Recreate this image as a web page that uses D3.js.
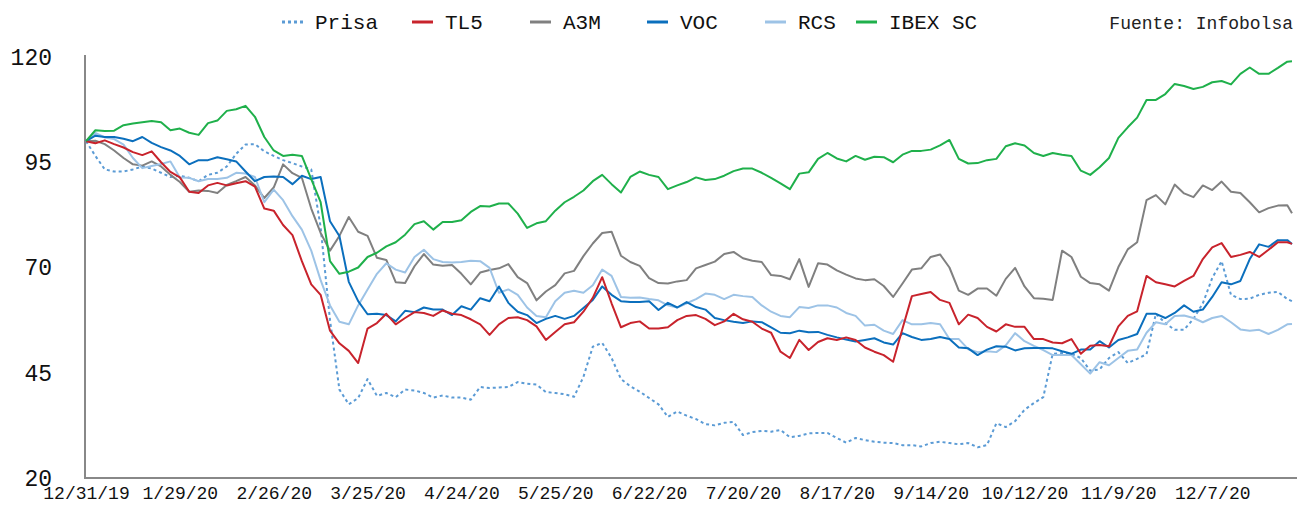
<!DOCTYPE html>
<html><head><meta charset="utf-8">
<script src="https://cdn.jsdelivr.net/npm/d3@7"></script>
<style>body{margin:0;background:#fff}svg{display:block}</style>
</head><body>
<svg id="chart" width="1297" height="506"></svg>
<script>
// trading-day tick labels (every 20 trading days)
const xTickLabels = ["12/31/19","1/29/20","2/26/20","3/25/20","4/24/20","5/25/20","6/22/20","7/20/20","8/17/20","9/14/20","10/12/20","11/9/20","12/7/20"];
const yTicks = [20,45,70,95,120];
const seriesNames = ["Prisa","TL5","A3M","VOC","RCS","IBEX SC"];
const totalDays = 258;   // trading days shown (12/31/19 .. 12/31/20)
const sampleStep = 2;    // values below are read every 2nd trading day, last one is the final day

const prisa = [100,96.5,93.3,92.8,92.8,93.3,94,93.5,92.5,91.5,
91.8,91.3,90.5,92,92.5,94,97,99.2,99.3,97.6,
96.5,95.5,94.8,94,93.3,79.6,57.5,41,37.5,39,
43.5,39.5,40.2,39.2,41,40.8,40.2,39.1,39.6,39.1,
39.1,38.6,41.6,41.4,41.5,41.6,42.8,42.4,42.2,40.4,
40.2,39.9,39.3,44,51.2,52.1,48.5,43.5,41.8,40.5,
39,37.5,34.5,35.8,34.8,34,32.8,32.5,33.1,33.3,
30.2,30.9,31.2,31,31.4,29.7,30,30.6,30.7,30.7,
29.5,28.4,29.5,29,28.6,28.4,28.3,27.8,27.8,27.5,
28.3,28.6,28.3,28,28.3,27.3,27.8,33,32.1,33.5,
36.2,37.8,39.2,49.5,49.7,49.5,48.5,45.5,45.8,48.5,
49.9,47.3,48.3,49.4,59,56.8,55.2,55.2,57.8,61.5,
67.5,71.5,63.5,62.5,62.6,63.5,64,64.2,62.5,62];

const tl5 = [100,99.5,100.2,99.3,98.5,97.4,96.7,97.6,95,92.7,
91.4,88,87.7,89.5,90.1,89.5,90,90.5,89.2,84,
83.5,80.1,77.7,71.5,66,63.5,55,52,50.2,47.3,
55.5,56.8,59,56.5,58,59.4,59.2,58.5,59.8,59,
58.7,57.7,56.5,54,56.5,58,58.2,57.5,56,52.8,
54.7,56.5,57,59.5,62.8,67.7,61.5,55.8,56.8,57.2,
55.5,55.5,55.8,57.5,58.5,58.7,57.8,56.3,57.2,59,
57.7,57.1,55.5,54.5,50,48.5,52.8,50.4,52.3,53.2,
52.8,53.4,52.8,51,50,49.2,47.6,55.5,63.2,63.7,
64.2,62.3,61.6,56.5,58.8,58,55.9,54.8,56.5,55.9,
55.9,53,53,52.2,52,53,49.5,51.4,51.6,51.3,
56,58.5,59.6,68,66.5,66,65.5,66.8,68,72,
74.8,75.8,72.5,73,73.7,72.5,74.2,76,76,75.6];

const a3m = [100,100.1,99.3,97.8,96,94.5,94.2,95.2,94,92,
90.3,88,88.3,88.2,87.7,89.6,90.5,91.5,89.5,86.5,
89,94.5,92.4,91.3,84,78.2,74,77.5,82,78.5,
77.5,72.3,71.8,66.5,66.3,70.3,73.2,70.7,70.4,70.6,
68.5,66,68.8,69.4,69.8,70.8,67.7,66.3,62.2,64.3,
65.8,68.6,69.2,72.7,75.7,78.2,78.5,72.8,71.3,70.4,
67.5,66.3,66.2,66.7,67,69.8,70.6,71.4,73.2,73.7,
72.2,71.6,71.3,68.2,68,67.2,72,65.4,71,70.7,
69.3,68.3,67.4,67,67.2,65.6,63,66.2,69.5,69.8,
72.5,73.1,70,64.5,63.5,65,65,63.3,67.3,69.9,
65.5,62.7,62.6,62.3,74,72.5,67.8,66.3,66,64.5,
70.1,74.3,76,86,87.2,85,89.7,87.6,86.7,89.5,
88.4,90.4,88,87.7,85.5,83.1,84.1,84.7,84.8,82.9];

const voc = [100,101.3,101,101,100.6,100,101,99.6,98.6,97.8,
96.5,94.5,95.5,95.5,96.2,95.7,95.2,92.8,90.5,91.5,
91.6,91.5,89.8,91.8,91,91.5,81,77.5,66.6,62,
58.9,59,58.7,57.2,59.7,59.4,60.5,60,60,58.7,
60.8,60,62.7,62,65.5,61.6,59.5,58.7,56.8,57.8,
58.5,57.8,58.5,60.4,62.3,65.5,63.5,62,61.8,61.8,
62,59.9,61.6,60.5,61.8,60.6,60,58,57.5,57.1,
56.8,57.2,57,55.8,54.5,54.4,55,54.6,54.7,54,
53.4,52.9,52.4,52.8,53.2,52.2,51.7,54.4,53.5,52.8,
53,53.5,53,51,50.8,49.2,50.5,51.3,51.2,50.3,
50.8,50.9,50.9,50.8,50.1,49.5,50.5,50.5,52.5,51,
52.8,53.4,54.2,59,59,58,59.2,61,59.5,60,
63,66.5,66,66.8,72,75.5,74.9,76.5,76.5,75.6];

const rcs = [100,102,100.9,100.5,99.2,96,93.6,94.1,94.6,95.2,
91.4,91.3,90.5,91,91,91.3,92.5,92.3,91.5,85.5,
88.5,86,82.2,79,74,67,61,57.1,56.5,61,
64.8,68.5,71,69.5,68.8,72.5,74.2,72,71.3,71.2,
71.3,71.6,71.5,69.9,64,64.8,63.5,60.5,58.5,58.2,
62,64,64.5,64,65.8,69.5,68,63,62.8,62.9,
62.5,62.2,61,60.5,61.5,62.5,63.8,63.5,62.5,63.5,
63.2,63,61,59.5,58.5,58.2,60.6,60.4,61,61,
60.5,59.2,58.5,56.2,56.4,55,54.2,57.5,56.5,56.5,
56.8,56.5,53,53,50.6,49.9,50.1,49.9,51.5,54.4,
52.5,51.4,50.4,49.2,49.2,49.2,47,44.8,47.5,46.8,
48.5,50.2,50.5,54.5,57,56.5,58.5,58.6,58,57,
58,58.5,57,55.3,55,55.2,54.2,55.2,56.5,56.6];

const ibexSC = [100,102.6,102.4,102.5,103.8,104.2,104.5,104.8,104.5,102.6,
103,102,101.5,104.3,104.9,107.2,107.6,108.4,105.8,101,
97.8,96.5,96.8,96.5,91,85.5,71.5,68.5,69,70,
72.5,73.5,75,76,77.8,80.3,81,79,80.8,80.8,
81.2,83.2,84.6,84.5,85.2,85.2,82.8,79.4,80.5,81,
83.5,85.5,86.8,88.3,90.5,92,89.8,87.8,91.5,92.8,
92,91.5,88.6,89.5,90.3,91.4,90.8,91,91.8,92.9,
93.5,93.5,92.5,91.3,90,88.6,92.3,92.6,95.8,97.2,
95.9,95.2,96.5,95.6,96.3,96.2,95,96.8,97.7,97.7,
98,99,100.3,95.8,94.7,94.8,95.5,95.8,98.8,99.5,
99,97.2,96.5,97.2,96.8,96.5,93,92,93.8,96,
100.8,103.3,105.6,109.8,109.8,111.2,113.6,113.1,112.4,112.9,
114,114.3,113.5,116,117.5,116,116,117.4,118.9,119];

const seriesValues = [prisa, tl5, a3m, voc, rcs, ibexSC];
const colors = ["#5b9bd5","#c8232c","#808080","#0b6fbd","#9dc3e6","#1fb04b"];
const dashes = ["3,3", null, null, null, null, null];

const svg = d3.select("#chart");
const x = d3.scaleLinear().domain([0, totalDays - 1]).range([86, 1292]);
const y = d3.scaleLinear().domain([20, 120]).range([478, 57]);
const dayOf = (i, n) => (i === n - 1 ? totalDays - 1 : i * sampleStep);

// axes
const yAxis = d3.axisLeft(y).tickValues(yTicks).tickSize(0).tickPadding(33);
const gy = svg.append("g").attr("transform", "translate(85,0)").call(yAxis);
gy.select(".domain").remove();
gy.selectAll("text").attr("font-family", "'Liberation Mono', monospace").attr("font-size", 23).attr("fill", "#111");

const xAxis = d3.axisBottom(x).tickValues(xTickLabels.map((d, i) => i * 20))
  .tickFormat((d, i) => xTickLabels[i]).tickSize(0).tickPadding(8);
const gx = svg.append("g").attr("transform", "translate(0,478)").call(xAxis);
gx.select(".domain").remove();
gx.selectAll("text").attr("font-family", "'Liberation Mono', monospace").attr("font-size", 18).attr("fill", "#111");

svg.append("line").attr("x1", 85).attr("x2", 85).attr("y1", 55).attr("y2", 479)
  .attr("stroke", "#888").attr("stroke-width", 2);
svg.append("line").attr("x1", 84).attr("x2", 1297).attr("y1", 478).attr("y2", 478)
  .attr("stroke", "#888").attr("stroke-width", 2);

// lines
const drawOrder = [0, 2, 4, 3, 1, 5];
drawOrder.forEach(s => {
  const vals = seriesValues[s];
  const line = d3.line().x((d, i) => x(dayOf(i, vals.length))).y(d => y(d)).curve(d3.curveLinear);
  svg.append("path").datum(vals).attr("d", line).attr("fill", "none")
    .attr("stroke", colors[s]).attr("stroke-width", 2)
    .attr("stroke-linejoin", "round")
    .attr("stroke-dasharray", dashes[s]);
});

// legend
const legendX = [282, 412, 530, 647, 765, 856];
const lg = svg.append("g");
seriesNames.forEach((name, i) => {
  lg.append("line").attr("x1", legendX[i]).attr("x2", legendX[i] + 21).attr("y1", 22).attr("y2", 22)
    .attr("stroke", colors[i]).attr("stroke-width", 3).attr("stroke-dasharray", dashes[i]);
  lg.append("text").attr("x", legendX[i] + 33).attr("y", 29).text(name)
    .attr("font-family", "'Liberation Mono', monospace").attr("font-size", 21).attr("fill", "#111");
});

svg.append("text").attr("x", 1293).attr("y", 29).attr("text-anchor", "end").text("Fuente: Infobolsa")
  .attr("font-family", "'Liberation Mono', monospace").attr("font-size", 18).attr("fill", "#222");
</script>
</body></html>
